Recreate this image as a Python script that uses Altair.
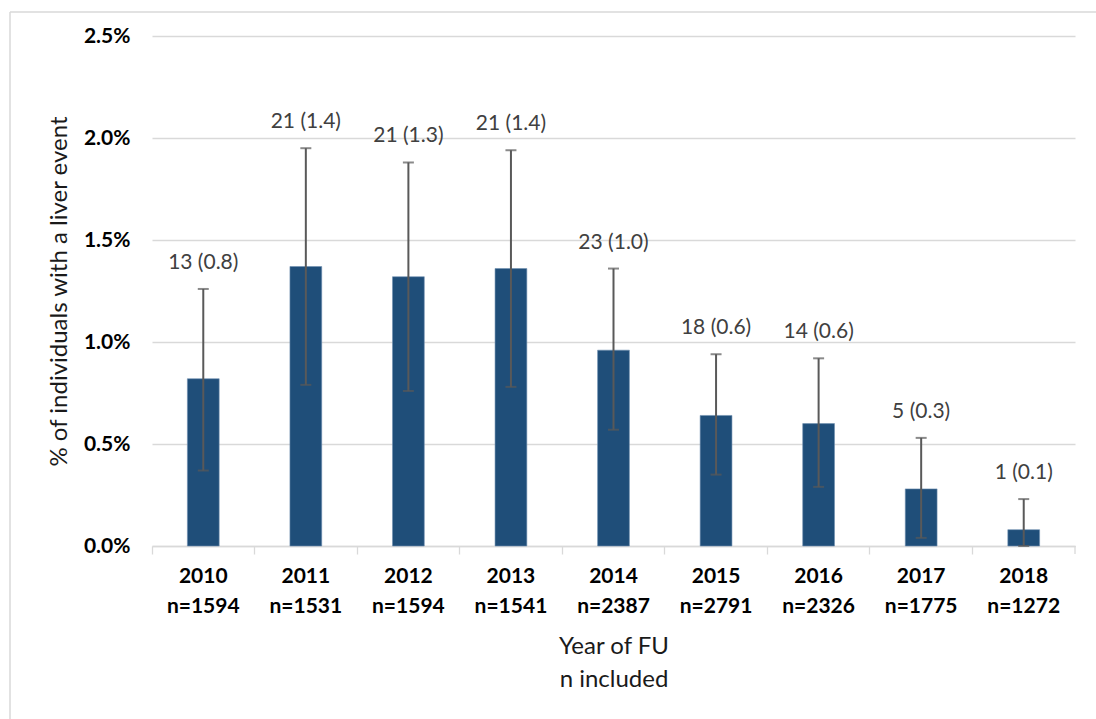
import altair as alt
import pandas as pd

# Liver events per year of follow-up
years = ["2010", "2011", "2012", "2013", "2014", "2015", "2016", "2017", "2018"]
n_included = [1594, 1531, 1594, 1541, 2387, 2791, 2326, 1775, 1272]
events = [13, 21, 21, 21, 23, 18, 14, 5, 1]
pct = [0.82, 1.37, 1.32, 1.36, 0.96, 0.64, 0.60, 0.28, 0.08]
ci_low = [0.37, 0.79, 0.76, 0.78, 0.57, 0.35, 0.29, 0.04, 0.0]
ci_high = [1.26, 1.95, 1.88, 1.94, 1.36, 0.94, 0.92, 0.53, 0.23]

df = pd.DataFrame({
    "year": years,
    "n": n_included,
    "events": events,
    "pct": pct,
    "low": ci_low,
    "high": ci_high,
})
df["cat"] = [f"{y}|n={n}" for y, n in zip(years, n_included)]

FONT = "Lato"
BAR = "#1f4e79"
GRID = "#d9d9d9"
ERR = "#595959"

x = alt.X(
    "cat:N",
    sort=None,
    scale=alt.Scale(paddingInner=0, paddingOuter=0),
    axis=alt.Axis(
        title=["Year of FU", "n included"],
        titleFont=FONT, titleFontSize=24, titleFontWeight="normal",
        titleColor="#1a1a1a", titleLineHeight=33, titlePadding=18,
        labelExpr="split(datum.label, '|')",
        labelFont=FONT, labelFontSize=21, labelFontWeight="bold",
        labelColor="#000000", labelLineHeight=30, labelPadding=11,
        labelAngle=0, bandPosition=0,
        tickColor=GRID, tickSize=8, tickWidth=1.3,
        domainColor=GRID, domainWidth=1.3,
        grid=False,
    ),
)
y_scale = alt.Scale(domain=[0, 2.5], nice=False)
y = alt.Y(
    "pct:Q",
    scale=y_scale,
    axis=alt.Axis(
        title="% of individuals with a liver event",
        titleFont=FONT, titleFontSize=24, titleFontWeight="normal",
        titleColor="#1a1a1a", titlePadding=12,
        values=[0, 0.5, 1.0, 1.5, 2.0, 2.5],
        labelExpr="format(datum.value, '.1f') + '%'",
        labelFont=FONT, labelFontSize=21, labelFontWeight="bold",
        labelColor="#000000", labelPadding=22,
        ticks=False, domain=False,
        grid=True, gridColor=GRID, gridWidth=1.3,
    ),
)

base = alt.Chart(df)

bars = base.mark_bar(
    width=alt.RelativeBandSize(0.31), color=BAR,
    stroke="#6f8fb0", strokeWidth=0.6,
).encode(x=x, y=y)

err = base.mark_rule(color=ERR, strokeWidth=2).encode(
    x="cat:N",
    y=alt.Y("low:Q", scale=y_scale),
    y2="high:Q",
)
cap_hi = base.mark_tick(color=ERR, thickness=2, size=11, orient="horizontal").encode(
    x="cat:N", y=alt.Y("high:Q", scale=y_scale)
)
cap_lo = base.mark_tick(color=ERR, thickness=2, size=11, orient="horizontal").encode(
    x="cat:N", y=alt.Y("low:Q", scale=y_scale)
)

labels = base.transform_calculate(
    lbl="datum.events + ' (' + format(datum.pct, '.1f') + ')'"
).mark_text(
    font=FONT, fontSize=21, color="#404040", baseline="middle", dy=-26
).encode(
    x="cat:N",
    y=alt.Y("high:Q", scale=y_scale),
    text="lbl:N",
)

# closing tick at the right end of the category axis
one = alt.Data(values=[{"k": 1}])
end_tick = alt.Chart(one).mark_rule(color=GRID, strokeWidth=1.3).encode(
    x=alt.value(923), y=alt.value(510), y2=alt.value(518)
)
# light frame around the figure
frame_v = alt.Chart(one).mark_rule(color=GRID, strokeWidth=1.5).encode(
    x=alt.value(-142), y=alt.value(-24), y2=alt.value(700)
)
frame_h = alt.Chart(one).mark_rule(color=GRID, strokeWidth=1.5).encode(
    x=alt.value(-142), x2=alt.value(960), y=alt.value(-24)
)

chart = alt.layer(
    frame_v, frame_h, bars, err, cap_hi, cap_lo, labels, end_tick
).properties(
    width=923,
    height=510,
    autosize=alt.AutoSizeParams(type="none"),
    padding={"left": 152, "top": 36, "right": 21, "bottom": 173},
    background="#ffffff",
).configure_view(stroke=None)

chart.save("out.html", embed_options={"renderer": "svg", "actions": False})
